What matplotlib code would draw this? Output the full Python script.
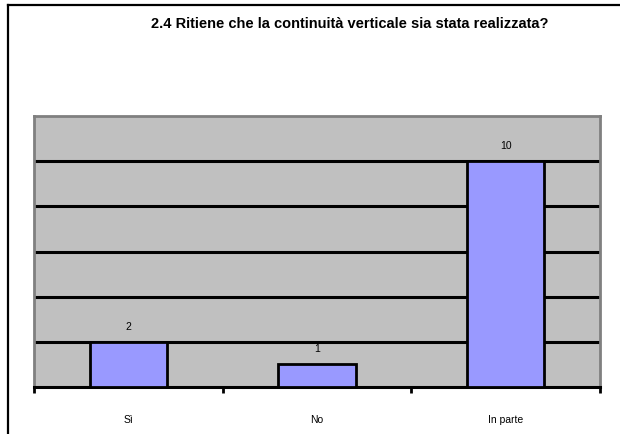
import matplotlib
matplotlib.use("Agg")
from matplotlib import pyplot as plt
import numpy as np

plt.rcParams["font.family"] = ["Liberation Sans", "DejaVu Sans"]

title = "2.4 Ritiene che la continuità verticale sia stata realizzata?"
categories = ["Sì", "No", "In parte"]
counts = [2, 1, 10]

W, H = 620, 434
fig = plt.figure(figsize=(W / 100, H / 100), dpi=100)

# frame of the picture: only top and left edges are visible
fig.add_artist(plt.Line2D([8 / W, 8 / W], [0, 1 - 5 / H], transform=fig.transFigure,
                          color="black", linewidth=1.6))
fig.add_artist(plt.Line2D([8 / W, 1], [1 - 5 / H, 1 - 5 / H], transform=fig.transFigure,
                          color="black", linewidth=1.6))

ax = fig.add_axes([34 / W, (H - 387) / H, (600 - 34) / W, (387 - 116) / H])
ax.set_facecolor("#c0c0c0")

x = np.arange(len(categories))
ax.bar(x, counts, width=0.41, color="#9999ff", edgecolor="black", linewidth=2, zorder=3)
for xi, v in zip(x, counts):
    ax.text(xi, v + 0.45, str(v), ha="center", va="bottom", fontsize=7.5, zorder=4)

ax.set_xlim(-0.5, len(categories) - 0.5)
ax.set_ylim(0, 12)
ax.set_yticks([2, 4, 6, 8, 10])
ax.yaxis.grid(True, color="black", linewidth=2.2, zorder=1)
ax.set_axisbelow(True)
ax.tick_params(axis="y", left=False, labelleft=False)

ax.set_xticks(np.arange(-0.5, len(categories), 1.0))
ax.set_xticklabels([])
ax.set_xticks(x, minor=True)
ax.set_xticklabels(categories, minor=True, fontsize=7.5)
ax.tick_params(axis="x", which="major", length=4, width=2, color="black", direction="out")
ax.tick_params(axis="x", which="minor", length=0, pad=20)

for side in ["top", "left", "right"]:
    ax.spines[side].set_color("#808080")
    ax.spines[side].set_linewidth(2)
ax.spines["bottom"].set_color("black")
ax.spines["bottom"].set_linewidth(2.2)

fig.text(350 / W, 1 - 24 / H, title, ha="center", va="center", fontsize=10.5, fontweight="bold")

fig.savefig("out.png", dpi=100)
